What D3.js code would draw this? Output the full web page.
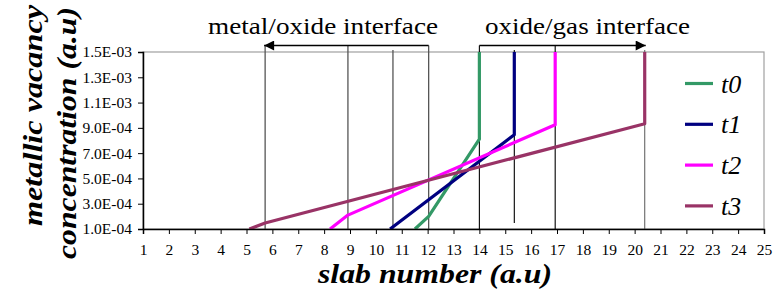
<!DOCTYPE html>
<html>
<head>
<meta charset="utf-8">
<script src="https://cdn.jsdelivr.net/npm/d3@7"></script>
<style>
  body { margin: 0; background: #fff; }
  svg text { font-family: "Liberation Serif", "Times New Roman", Times, "DejaVu Serif", serif; }
</style>
</head>
<body>
<div id="app"></div>
<script>
// slab numbers on the x axis and concentration ticks on the y axis
const slabTicks = d3.range(1, 26)
const concTicks = [1.0e-4, 3.0e-4, 5.0e-4, 7.0e-4, 9.0e-4, 1.1e-3, 1.3e-3, 1.5e-3]

// interface positions (slab number)
const metalOxide = [5.72, 8.92, 10.66, 12.04]
const oxideGas = [14.0, 15.35, 16.93, 20.39]

const seriesNames = ['t0', 't1', 't2', 't3']
const t0 = [[11.51, 1.0e-4], [12.04, 2.0e-4], [14.0, 8.1e-4], [14.0, 1.5e-3]]
const t1 = [[10.55, 1.0e-4], [15.35, 8.45e-4], [15.35, 1.5e-3]]
const t2 = [[8.23, 1.0e-4], [8.92, 2.1e-4], [16.93, 9.25e-4], [16.93, 1.5e-3]]
const t3 = [[5.11, 1.0e-4], [5.72, 1.47e-4], [20.39, 9.33e-4], [20.39, 1.5e-3]]
const colors = ['#339966', '#000080', '#ff00ff', '#993366']

const width = 780
const height = 295
const margin = { top: 52, right: 16, bottom: 66, left: 143 }
const arrowY = 45.5

const svg = d3.select('#app')
  .append('svg')
  .attr('width', width)
  .attr('height', height)

const x = d3.scaleLinear()
  .domain([1, 25])
  .range([margin.left, width - margin.right])

const y = d3.scaleLinear()
  .domain([1.0e-4, 1.5e-3])
  .range([height - margin.bottom, margin.top])

// plot frame (grey top / right)
svg.append('rect')
  .attr('x', x(1))
  .attr('y', y(1.5e-3))
  .attr('width', x(25) - x(1))
  .attr('height', y(1.0e-4) - y(1.5e-3))
  .attr('fill', 'none')
  .attr('stroke', '#a0a0a0')
  .attr('stroke-width', 1.2)

// interface lines
const fullTop = [true, true, false, true]
svg.selectAll('.mo-line')
  .data(metalOxide)
  .enter()
  .append('line')
  .attr('x1', d => x(d)).attr('x2', d => x(d))
  .attr('y1', (d, i) => fullTop[i] ? arrowY : y(1.5e-3) - 2)
  .attr('y2', y(1.0e-4))
  .attr('stroke', '#555')
  .attr('stroke-width', 1.3)

const gasTop = [true, false, true, false]
const gasColor = ['#000', '#000', '#000', '#666']
svg.selectAll('.og-line')
  .data(oxideGas)
  .enter()
  .append('line')
  .attr('x1', d => x(d)).attr('x2', d => x(d))
  .attr('y1', (d, i) => gasTop[i] ? arrowY : y(1.5e-3) - 2)
  .attr('y2', (d, i) => i === 1 ? y(1.0e-4) - 6 : y(1.0e-4))
  .attr('stroke', (d, i) => gasColor[i])
  .attr('stroke-width', 1.1)

// arrows
const defs = svg.append('defs')
defs.append('marker')
  .attr('id', 'head')
  .attr('viewBox', '0 0 10 10')
  .attr('refX', 10).attr('refY', 5)
  .attr('markerWidth', 11).attr('markerHeight', 10)
  .attr('markerUnits', 'userSpaceOnUse')
  .attr('orient', 'auto')
  .append('path')
  .attr('d', 'M0,0L10,5L0,10Z')
  .attr('fill', '#000')

svg.append('line')
  .attr('x1', x(metalOxide[3])).attr('x2', x(metalOxide[0]) - 1)
  .attr('y1', arrowY).attr('y2', arrowY)
  .attr('stroke', '#000').attr('stroke-width', 1.5)
  .attr('marker-end', 'url(#head)')

svg.append('line')
  .attr('x1', x(oxideGas[0])).attr('x2', x(oxideGas[3]) + 1)
  .attr('y1', arrowY).attr('y2', arrowY)
  .attr('stroke', '#000').attr('stroke-width', 1.5)
  .attr('marker-end', 'url(#head)')

svg.append('text')
  .attr('x', 208).attr('y', 34)
  .attr('textLength', 230)
  .attr('lengthAdjust', 'spacingAndGlyphs')
  .style('font-size', '23.5px')
  .text('metal/oxide interface')

svg.append('text')
  .attr('x', 485).attr('y', 34)
  .attr('textLength', 205)
  .attr('lengthAdjust', 'spacingAndGlyphs')
  .style('font-size', '23.5px')
  .text('oxide/gas interface')

// series
defs.append('clipPath').attr('id', 'clip')
  .append('rect')
  .attr('x', x(1)).attr('y', y(1.5e-3))
  .attr('width', x(25) - x(1))
  .attr('height', y(1.0e-4) - y(1.5e-3))

const line = d3.line()
  .x(d => x(d[0]))
  .y(d => y(d[1]))

svg.append('g')
  .attr('clip-path', 'url(#clip)')
  .selectAll('path')
  .data([t0, t1, t2, t3])
  .enter()
  .append('path')
  .attr('d', line)
  .attr('fill', 'none')
  .attr('stroke', (d, i) => colors[i])
  .attr('stroke-width', 3.2)
  .attr('stroke-linejoin', 'round')

// axes
const axisX = d3.axisBottom(x)
  .tickValues(slabTicks)
  .tickFormat(d3.format('d'))
  .tickSize(5)
  .tickPadding(10)

const gx = svg.append('g')
  .attr('transform', `translate(0, ${y(1.0e-4)})`)
  .call(axisX)
gx.attr('font-family', null)
gx.selectAll('text').style('font-size', '15.5px').attr('fill', '#000')
gx.select('.domain').attr('stroke-width', 1.5)

const axisY = d3.axisLeft(y)
  .tickValues(concTicks)
  .tickFormat(d => d.toExponential(1).replace(/e([+-])(\d)$/, 'E$10$2').replace('e', 'E'))
  .tickSize(5)
  .tickPadding(6)

const gy = svg.append('g')
  .attr('transform', `translate(${x(1)}, 0)`)
  .call(axisY)
gy.attr('font-family', null)
gy.selectAll('text').style('font-size', '15.5px').attr('fill', '#000')
gy.select('.domain').attr('stroke-width', 1.5)

// axis titles
svg.append('text')
  .attr('x', 318).attr('y', 283)
  .attr('textLength', 234)
  .attr('lengthAdjust', 'spacingAndGlyphs')
  .style('font-size', '27px')
  .style('font-weight', 'bold')
  .style('font-style', 'italic')
  .text('slab number (a.u)')

svg.append('text')
  .attr('transform', 'translate(42, 226) rotate(-90)')
  .attr('textLength', 221)
  .attr('lengthAdjust', 'spacingAndGlyphs')
  .style('font-size', '27px')
  .style('font-weight', 'bold')
  .style('font-style', 'italic')
  .text('metallic vacancy')

svg.append('text')
  .attr('transform', 'translate(76, 259) rotate(-90)')
  .attr('textLength', 252)
  .attr('lengthAdjust', 'spacingAndGlyphs')
  .style('font-size', '27px')
  .style('font-weight', 'bold')
  .style('font-style', 'italic')
  .text('concentration (a.u)')

// legend
const legend = svg.append('g')
  .selectAll('g')
  .data(seriesNames)
  .enter()
  .append('g')
  .attr('transform', (d, i) => `translate(685, ${83.5 + i * 40.8})`)

legend.append('line')
  .attr('x1', 0).attr('x2', 28)
  .attr('stroke', (d, i) => colors[i])
  .attr('stroke-width', 3.2)

legend.append('text')
  .attr('x', 36).attr('y', 9)
  .style('font-size', '26px')
  .style('font-style', 'italic')
  .text(d => d)
</script>
</body>
</html>
